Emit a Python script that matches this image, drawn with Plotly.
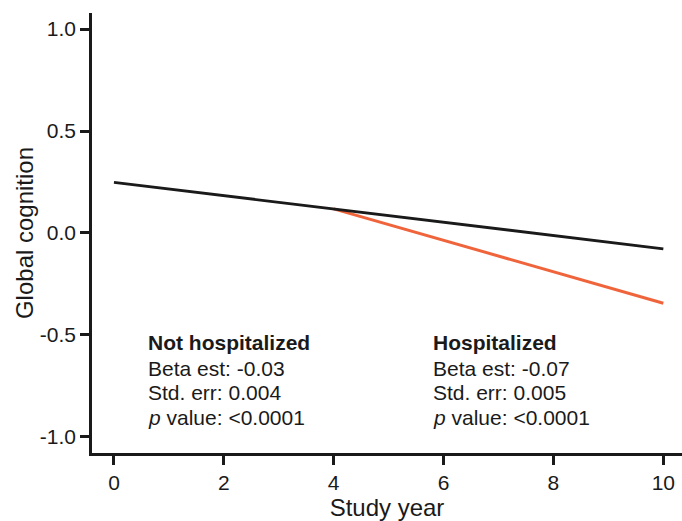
import plotly.graph_objects as go

# Data
years_not_hosp = [0, 10]
cog_not_hosp = [0.248, -0.078]
years_hosp = [4, 10]
cog_hosp = [0.118, -0.345]

x_ticks = [0, 2, 4, 6, 8, 10]
y_ticks = [-1.0, -0.5, 0.0, 0.5, 1.0]
y_tick_labels = ["-1.0", "-0.5", "0.0", "0.5", "1.0"]

left_block = ["<b>Not hospitalized</b>", "Beta est: -0.03", "Std. err: 0.004", "<i>p</i> value: <0.0001"]
right_block = ["<b>Hospitalized</b>", "Beta est: -0.07", "Std. err: 0.005", "<i>p</i> value: <0.0001"]

FONT = "Liberation Sans, Arial, Helvetica, sans-serif"
ORANGE = "#F0643C"
INK = "#1a1a1a"

fig = go.Figure()
fig.add_trace(go.Scatter(x=years_hosp, y=cog_hosp, mode="lines",
                         line=dict(color=ORANGE, width=3), showlegend=False))
fig.add_trace(go.Scatter(x=years_not_hosp, y=cog_not_hosp, mode="lines",
                         line=dict(color=INK, width=2.8), showlegend=False))

line_y = [-0.540, -0.663, -0.785, -0.908]
for block, x0 in ((left_block, 0.585), (right_block, 5.775)):
    for txt, yy in zip(block, line_y):
        fig.add_annotation(x=x0, y=yy, xref="x", yref="y", text=txt,
                           showarrow=False, xanchor="left", yanchor="middle",
                           font=dict(family=FONT, size=21, color=INK))

fig.update_layout(
    width=682, height=521,
    margin=dict(l=92, r=0, t=13, b=68),
    paper_bgcolor="white", plot_bgcolor="white",
    font=dict(family=FONT, color=INK),
    xaxis=dict(range=[-0.40, 10.34], tickvals=x_ticks, ticks="outside",
               ticklen=9, tickwidth=2.5, tickcolor=INK,
               showline=True, linecolor=INK, linewidth=2.5, showgrid=False,
               zeroline=False, tickfont=dict(size=21, family=FONT, color=INK),
               title=dict(text="Study year", font=dict(size=24, family=FONT, color=INK),
                          standoff=6)),
    yaxis=dict(range=[-1.08, 1.079], tickvals=y_ticks, ticktext=y_tick_labels,
               ticks="outside", ticklen=9, tickwidth=2.5, tickcolor=INK,
               showline=True, linecolor=INK, linewidth=2.5, showgrid=False,
               zeroline=False, tickfont=dict(size=21, family=FONT, color=INK),
               title=dict(text="Global cognition", font=dict(size=24, family=FONT, color=INK),
                          standoff=0)),
)

fig.write_html("out.html")
